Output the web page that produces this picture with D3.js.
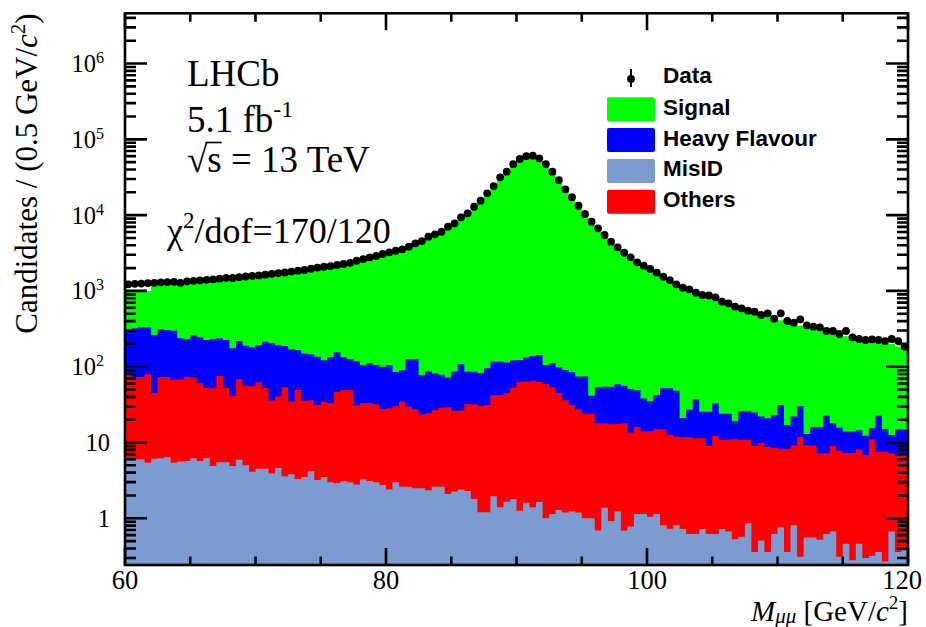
<!DOCTYPE html>
<html>
<head>
<meta charset="utf-8">
<script src="https://cdn.jsdelivr.net/npm/d3@7"></script>
<style>
  body { margin: 0; background: #fff; }
  svg text { font-family: "Liberation Serif", "Times New Roman", serif; fill: #000; }
  .legend text { font-family: "Liberation Sans", Arial, sans-serif; font-weight: bold; }
</style>
</head>
<body>
<div id="chart"></div>
<script>
// Dimuon mass bins: 60-120 GeV, 0.5 GeV wide (bin low edges)
const binLow = d3.range(60, 120, 0.5);
const binWidth = 0.5;

// Stacked components, candidates per bin
const misID = [6.2,6.0,6.0,5.4,6.1,6.2,6.4,5.4,5.6,5.7, 6.2,5.7,6.2,4.9,5.5,5.5,4.9,5.9,5.0,4.1,
  4.5,4.5,3.9,4.6,3.6,3.8,3.3,3.5,4.2,3.2, 3.5,3.0,2.9,3.1,3.0,2.8,3.3,3.1,3.0,2.75,
  2.4,3.0,2.6,2.6,2.5,2.5,2.35,2.6,2.6,2.1, 2.25,2.4,2.3,1.8,1.2,1.2,1.95,1.4,1.65,1.8,
  1.26,1.6,1.4,1.64,1.0,1.14,1.29,1.19,1.24,1.19, 1.0,1.0,0.69,1.38,0.92,1.24,0.69,0.78,1.14,1.14,
  1.05,1.14,0.81,0.73,0.81,0.72,0.62,0.62,0.72,0.62, 0.62,0.72,0.67,0.53,0.57,0.86,0.36,0.51,0.36,0.62,
  0.76,0.36,0.81,0.31,0.56,0.56,0.52,0.62,0.67,0.31, 0.46,0.28,0.46,0.30,0.32,0.36,0.27,0.67,0.36,0.38];

const others = [72,67,67,74,39,67,67,62,62,68, 66,55,46,47,70,47,36,63,51,51,
  58,48,32,36,50,31,46,32,32,28, 31,30,44,46,46,28,30,30,29,25,
  26,27,32,27,25,21,22,24,26,27, 24,24,30,30,29,30,40,41,43,51,
  62,62,64,61,58,52,44,35,30,26, 23,23,17.3,16.6,16.5,16.3,17.3,12.8,14.9,12.9,
  13,13.9,14.2,11.9,11.2,11,11.1,10.8,10.7,8.4, 11.6,10.1,10.3,10.5,10.2,9.9,8.6,9.4,8.4,7.9,
  7.5,7.9,8.4,11.6,8.6,8.6,6.7,6.6,8.3,7.5, 6.8,7.0,7.6,6.5,10.7,7.2,7.3,6.5,6.4,6.4];

const heavyFlavour = [227,248,258,250,217,237,232,231,169,156, 186,184,173,178,162,173,134,149,133,125,
  130,161,168,152,134,135,117,114,110,104, 87,100,108,84,77,88,72,78,73,72,
  76,55,55,96,98,54,62,55,50,43, 60,81,54,54,52,64,74,74,69,69,
  59,69,73,80,46,58,53,54,53,47, 50,17.5,35.5,36.5,37.1,41,38,37.4,33,24,
  21,27,37,39.4,36,9.3,15.3,25.6,14.1,16.5, 20.8,13.2,13,8,15.2,15.2,16,12.1,12.2,14.5,
  22.7,8.7,12.8,18.1,3.8,6.8,8.8,15.4,9,7.9, 6.7,6.7,6.5,5.5,4.4,15,7.4,5.4,8.2,8.2];

const signal = [695,679,669,671,1018,985,1005,1027,1103,1125, 1112,1145,1185,1200,1213,1245,1320,1302,1361,1400,
  1417,1426,1471,1517,1562,1620,1674,1740,1804,1875, 1948,2007,2055,2157,2254,2361,2485,2609,2755,2920,
  3096,3305,3520,3734,4024,4412,4814,5318,5921,6728, 7714,8993,10614,12714,15418,19105,23884,30384,37886,46378,
  54378,59667,60362,55857,47395,37389,28902,21910,16916,13226, 10326,8158,6596,5395,4445,3721,3144,2699,2351,2092,
  1885,1688,1508,1358,1232,1149,1043,948,884,819, 752,706,656,616,569,529,495,468,439,412,
  379,373,348,320,320,301,286,265,257,247, 238,228,218,213,203,189,191,187,170,160];

const dataCounts = [1220,1240,1250,1270,1280,1300,1310,1320,1280,1340, 1360,1380,1400,1420,1450,1490,1480,1520,1550,1580,
  1600,1640,1680,1720,1750,1800,1850,1890,1960,2030, 2085,2130,2200,2265,2350,2500,2630,2775,2890,3070,
  3230,3390,3540,3830,4245,4550,5190,5580,6040,7030, 7790,9350,10560,12900,15500,19400,24200,31500,37400,47000,
  55000,60200,60800,56100,47200,37400,29000,21900,17200,13300, 10350,8190,6700,5470,4460,3760,3190,2775,2384,2150,
  1945,1739,1539,1392,1222,1102,1050,948,883,870, 823,721,686,619,589,548,532,481,506,430,
  506,401,381,422,352,337,331,296,296,270, 296,244,232,225,230,225,218,232,218,184];

// Axis ticks
const xMajorTicks = [60, 80, 100, 120];
const xMinorTicks = [65, 70, 75, 85, 90, 95, 105, 110, 115];
const yMajorTicks = [1, 10, 100, 1e3, 1e4, 1e5, 1e6];
const yTickLabels = ['1', '10', '10|2', '10|3', '10|4', '10|5', '10|6'];

const components = [
  { key: 'misid',  label: 'MisID',         color: '#7b9bd1', values: misID },
  { key: 'others', label: 'Others',        color: '#ff0000', values: others },
  { key: 'hf',     label: 'Heavy Flavour', color: '#0000ff', values: heavyFlavour },
  { key: 'signal', label: 'Signal',        color: '#00ff00', values: signal }
];
const legendOrder = ['signal', 'hf', 'misid', 'others'];

const width = 926, height = 627;
const margin = { left: 125, right: 18, top: 13.3, bottom: 62 };
const plotW = width - margin.left - margin.right;
const plotH = height - margin.top - margin.bottom;
const bottomY = margin.top + plotH;
const rightX = margin.left + plotW;

const svg = d3.select('#chart').append('svg')
  .attr('width', width)
  .attr('height', height);

const x = d3.scaleLinear().domain([60, 120]).range([margin.left, rightX]);
const yMin = 0.242;
const y = d3.scaleLog().domain([yMin, 4.6e6]).range([bottomY, margin.top]).clamp(true);

svg.append('defs').append('clipPath').attr('id', 'plot-clip')
  .append('rect')
  .attr('x', margin.left).attr('y', margin.top)
  .attr('width', plotW).attr('height', plotH);

// Rows for stacking, plus a closing edge at 120 so the last step is drawn
const rows = binLow.map(function(lo, i) {
  const r = { x: lo };
  components.forEach(function(c) { r[c.key] = c.values[i]; });
  return r;
});
rows.push(Object.assign({}, rows[rows.length - 1], { x: 120 }));

const stacked = d3.stack().keys(components.map(c => c.key))(rows);

const area = d3.area()
  .curve(d3.curveStepAfter)
  .x(d => x(d.data.x))
  .y0(y(yMin))
  .y1(d => y(Math.max(d[1], yMin)));

// ROOT-style: draw cumulative totals from the top layer down
const histGroup = svg.append('g').attr('clip-path', 'url(#plot-clip)');
stacked.slice().reverse().forEach(function(layer) {
  const comp = components.find(c => c.key === layer.key);
  histGroup.append('path')
    .datum(layer)
    .attr('d', area)
    .attr('fill', comp.color)
    .attr('stroke', 'none');
});

// Data points
histGroup.append('g').selectAll('circle')
  .data(dataCounts)
  .enter()
  .append('circle')
  .attr('cx', (d, i) => x(binLow[i] + binWidth / 2))
  .attr('cy', d => y(d))
  .attr('r', 3.9)
  .attr('fill', '#000');

// Frame
svg.append('rect')
  .attr('x', margin.left).attr('y', margin.top)
  .attr('width', plotW).attr('height', plotH)
  .attr('fill', 'none').attr('stroke', '#000').attr('stroke-width', 2.6);

// X tick labels (the last one is pulled in so it stays on the canvas)
svg.append('g').selectAll('text')
  .data(xMajorTicks)
  .enter()
  .append('text')
  .attr('x', d => x(d))
  .attr('dx', (d, i) => i === xMajorTicks.length - 1 ? -6 : 0)
  .attr('y', 589)
  .attr('text-anchor', 'middle')
  .attr('font-size', 26.5)
  .text(d => d);

// Y tick labels with superscript exponents
const yLab = svg.append('g').selectAll('text')
  .data(yMajorTicks)
  .enter()
  .append('text')
  .attr('x', (d, i) => yTickLabels[i].indexOf('|') < 0 ? 110 : 104)
  .attr('y', d => y(d) + 8.5)
  .attr('text-anchor', 'end')
  .attr('font-size', 24.5);
yLab.each(function(d, i) {
  const parts = yTickLabels[i].split('|');
  const t = d3.select(this);
  t.append('tspan').text(parts[0]);
  if (parts[1]) {
    t.append('tspan').attr('font-size', 16).attr('dy', -9).text(parts[1]);
  }
});

// Axis titles
const xTitle = svg.append('text')
  .attr('x', rightX)
  .attr('y', 621)
  .attr('text-anchor', 'end')
  .attr('font-size', 29);
xTitle.append('tspan').attr('font-style', 'italic').text('M');
xTitle.append('tspan').attr('font-style', 'italic').attr('font-size', 21).attr('dy', 2).text('μμ');
xTitle.append('tspan').attr('dy', -2).text(' [GeV/');
xTitle.append('tspan').attr('font-style', 'italic').text('c');
xTitle.append('tspan').attr('font-size', 19).attr('dy', -12).text('2');
xTitle.append('tspan').attr('dy', 12).text(']');

const yTitle = svg.append('text')
  .attr('transform', `translate(37,${margin.top}) rotate(-90)`)
  .attr('text-anchor', 'end')
  .attr('font-size', 31);
yTitle.append('tspan').text('Candidates / (0.5 GeV/');
yTitle.append('tspan').attr('font-style', 'italic').text('c');
yTitle.append('tspan').attr('font-size', 21).attr('dy', -12).text('2');
yTitle.append('tspan').attr('dy', 12).text(')');

// Experiment labels
svg.append('text').attr('x', 187).attr('y', 86).attr('font-size', 37).text('LHCb');
const lumi = svg.append('text').attr('x', 187).attr('y', 131.5).attr('font-size', 37);
lumi.append('tspan').text('5.1 fb');
lumi.append('tspan').attr('font-size', 24).attr('dy', -15).text('-1');
const roots = svg.append('text').attr('x', 187).attr('y', 171.5).attr('font-size', 37);
roots.append('tspan').text('√');
roots.append('tspan').text('s = 13 TeV');
// overline of the square root across the "s"
const sqrtBox = roots.node().getExtentOfChar(0);
const sBox = roots.node().getExtentOfChar(1);
svg.append('line')
  .attr('x1', sqrtBox.x + sqrtBox.width - 2).attr('x2', sBox.x + sBox.width)
  .attr('y1', sqrtBox.y + 4).attr('y2', sqrtBox.y + 4)
  .attr('stroke', '#000').attr('stroke-width', 1.6);

const chi = svg.append('text').attr('x', 167).attr('y', 243).attr('font-size', 36);
chi.append('tspan').text('χ');
chi.append('tspan').attr('font-size', 23).attr('dy', -15).text('2');
chi.append('tspan').attr('dy', 15).text('/dof=170/120');

// Legend
const legend = svg.append('g').attr('class', 'legend');
const legX = 607, legTextX = 663, legTop = 66.5, legStep = 30.8;
legend.append('line')
  .attr('x1', 631).attr('x2', 631)
  .attr('y1', legTop + 2.5).attr('y2', legTop + 20.5)
  .attr('stroke', '#000').attr('stroke-width', 2);
legend.append('circle').attr('cx', 631).attr('cy', legTop + 12.5).attr('r', 3.9).attr('fill', '#000');
legend.append('text').attr('x', legTextX).attr('y', legTop + 16.8).attr('font-size', 22.5).text('Data');

legendOrder.forEach(function(key, i) {
  const comp = components.find(c => c.key === key);
  const top = legTop + legStep * (i + 1);
  legend.append('rect')
    .attr('x', legX).attr('y', top)
    .attr('width', 48).attr('height', 24)
    .attr('rx', 2)
    .attr('fill', comp.color);
  legend.append('text')
    .attr('x', legTextX).attr('y', top + 17.5)
    .attr('font-size', 22.5)
    .text(comp.label);
});

// Minor y ticks: 2..9 per decade
const yMinorTicks = [];
for (let e = -1; e <= 6; e++) {
  for (let k = 2; k <= 9; k++) {
    const v = k * Math.pow(10, e);
    if (v > yMin && v < 4.6e6) yMinorTicks.push(v);
  }
}

// Inward ticks on all four sides of the frame, drawn last so nothing covers them
const tickSpecs = [];
xMajorTicks.forEach(v => tickSpecs.push({ axis: 'x', v: v, len: 17 }));
xMinorTicks.forEach(v => tickSpecs.push({ axis: 'x', v: v, len: 8.5 }));
yMajorTicks.forEach(v => tickSpecs.push({ axis: 'y', v: v, len: 22 }));
yMinorTicks.forEach(v => tickSpecs.push({ axis: 'y', v: v, len: 11 }));

const tickPaths = [];
tickSpecs.forEach(function(t) {
  if (t.axis === 'x') {
    const px = x(t.v);
    tickPaths.push(`M${px},${bottomY}V${bottomY - t.len}`);
    tickPaths.push(`M${px},${margin.top}V${margin.top + t.len}`);
  } else {
    const py = y(t.v);
    tickPaths.push(`M${margin.left},${py}H${margin.left + t.len}`);
    tickPaths.push(`M${rightX},${py}H${rightX - t.len}`);
  }
});
svg.append('path')
  .attr('class', 'ticks')
  .attr('d', tickPaths.join(''))
  .attr('fill', 'none')
  .attr('stroke', '#000')
  .attr('stroke-width', 2.6);
</script>
</body>
</html>
